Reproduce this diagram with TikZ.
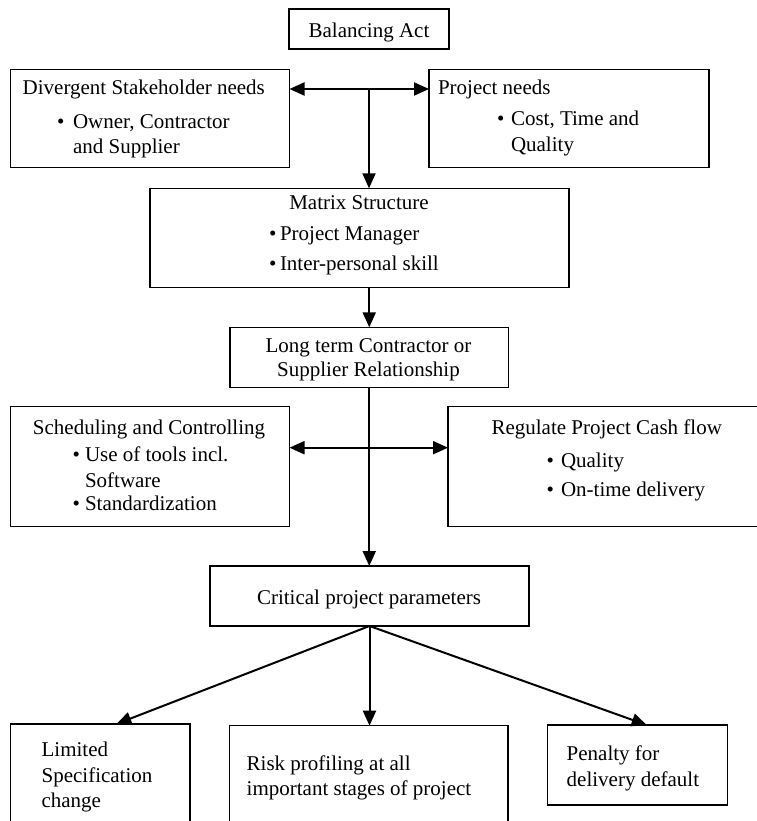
\documentclass[tikz,border=0pt]{standalone}
\usepackage{fontspec}
\setmainfont{Liberation Serif}
\usetikzlibrary{arrows.meta}
\begin{document}
\begin{tikzpicture}[x=1pt,y=-1pt,
  box/.style={draw, line width=1.3pt, inner sep=0pt, outer sep=0pt},
  txt/.style={inner sep=0pt, outer sep=0pt, font=\fontsize{21}{25}\selectfont},
  tl/.style={txt, anchor=base west},
  tc/.style={txt, anchor=base},
  arr/.style={line width=2pt, -{Triangle[length=15pt,width=13pt]}},
  ln/.style={line width=2pt}]
\useasboundingbox (0,0) rectangle (756,821);
% boxes
\node[box, minimum width=160pt, minimum height=40pt] (bal) at (369,29) {};
\node[box, minimum width=278.8pt, minimum height=98.2pt] (div) at (150.1,118.4) {};
\node[box, minimum width=280pt, minimum height=98.2pt] (pn) at (569,118.4) {};
\node[box, minimum width=419pt, minimum height=99pt] (mat) at (359.5,237.8) {};
\node[box, minimum width=278.5pt, minimum height=60pt] (lt) at (369.25,357.3) {};
\node[box, minimum width=278.8pt, minimum height=119.8pt] (sch) at (150.1,466.6) {};
\node[box, minimum width=322pt, minimum height=119.8pt] (reg) at (609,466.6) {};
\node[box, minimum width=319pt, minimum height=60pt] (crit) at (369.5,596) {};
\node[box, minimum width=179.3pt, minimum height=111pt] (lim) at (100.35,779.5) {};
\node[box, minimum width=278.7pt, minimum height=109.3pt] (risk) at (368.65,780.35) {};
\node[box, minimum width=180pt, minimum height=80pt] (pen) at (637.7,765) {};
% texts
\node[tc] (t1) at (369,37.3) {Balancing Act};
\node[tl] (t2) at (22.7,95) {Divergent Stakeholder needs};
\node[tl] (t3) at (57,128.3) {\textbullet};
\node[tl] (t4) at (73,128.3) {Owner, Contractor};
\node[tl] (t5) at (73,153.3) {and Supplier};
\node[tl] (t6) at (438,95) {Project needs};
\node[tl] (t7) at (497,125.7) {\textbullet};
\node[tl] (t8) at (511,125.7) {Cost, Time and};
\node[tl] (t9) at (511,151.7) {Quality};
\node[tc] (t10) at (359,209) {Matrix Structure};
\node[tl] (t11) at (269,240) {\textbullet};
\node[tl] (t12) at (280,240) {Project Manager};
\node[tl] (t13) at (269,270.7) {\textbullet};
\node[tl] (t14) at (280,270.7) {Inter-personal skill};
\node[tc] (t15) at (368.5,352.5) {Long term Contractor or};
\node[tc] (t16) at (368.5,376.5) {Supplier Relationship};
\node[tc] (t17) at (149,434) {Scheduling and Controlling};
\node[tl] (t18) at (72.7,461.7) {\textbullet};
\node[tl] (t19) at (85,461.7) {Use of tools incl.};
\node[tl] (t20) at (85,487.3) {Software};
\node[tl] (t21) at (72.7,510.5) {\textbullet};
\node[tl] (t22) at (85,510.5) {Standardization};
\node[tc] (t23) at (606.7,434.3) {Regulate Project Cash flow};
\node[tl] (t24) at (546.7,467) {\textbullet};
\node[tl] (t25) at (561,467) {Quality};
\node[tl] (t26) at (546.7,496.7) {\textbullet};
\node[tl] (t27) at (561,496.7) {On-time delivery};
\node[tc] (t28) at (369,604) {Critical project parameters};
\node[tl] (t29) at (41.6,756.7) {Limited};
\node[tl] (t30) at (41.6,782.7) {Specification};
\node[tl] (t31) at (41.6,807.7) {change};
\node[tl] (t32) at (246.7,770) {Risk profiling at all};
\node[tl] (t33) at (246.7,795) {important stages of project};
\node[tl] (t34) at (566.7,760) {Penalty for};
\node[tl] (t35) at (566.7,786) {delivery default};
% connectors
\coordinate (hub1) at (369,89);
\coordinate (hub2) at (369,447.7);
\draw[arr] (hub1) -- (hub1 -| div.east);
\draw[arr] (hub1) -- (hub1 -| pn.west);
\draw[arr] (hub1) -- (hub1 |- mat.north);
\draw[arr] (lt.north |- mat.south) -- (lt.north);
\draw[arr] (lt.south) -- (lt.south |- crit.north);
\draw[arr] (hub2) -- (hub2 -| sch.east);
\draw[arr] (hub2) -- (hub2 -| reg.west);
\draw[arr] (crit.south) -- ([xshift=16pt]lim.north);
\draw[arr] (crit.south) -- (crit.south |- risk.north);
\draw[arr] (crit.south) -- ([xshift=9pt]pen.north);
\end{tikzpicture}
\end{document}
